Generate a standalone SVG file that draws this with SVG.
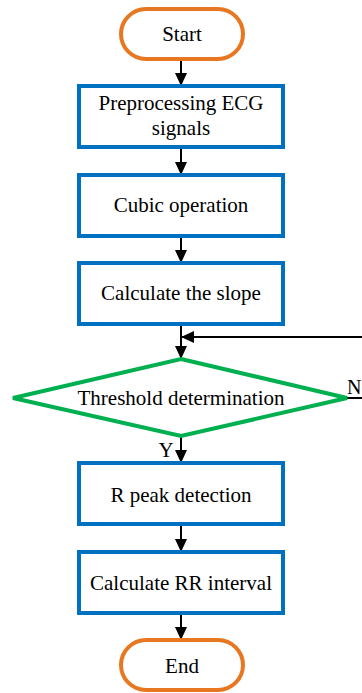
<svg xmlns="http://www.w3.org/2000/svg" width="362" height="693" viewBox="0 0 362 693">
<style>
.term{fill:#fff;stroke:#E87722;stroke-width:4}
.proc{fill:#fff;stroke:#0070C0;stroke-width:4}
.dec{fill:#fff;stroke:#00B050;stroke-width:4}
text{font-family:"Liberation Serif","Times New Roman",serif;font-size:21px;fill:#000;text-anchor:middle}
.ln{stroke:#000;stroke-width:2;fill:none}
</style>
<defs>
<marker id="ah" markerWidth="13" markerHeight="12" refX="12" refY="6" orient="auto" markerUnits="userSpaceOnUse">
<path d="M0,0 L13,6 L0,12 Z" fill="#000"/>
</marker>
</defs>
<g id="connectors">
<line class="ln" x1="181" y1="59" x2="181" y2="85" marker-end="url(#ah)"/>
<line class="ln" x1="181" y1="148" x2="181" y2="174" marker-end="url(#ah)"/>
<line class="ln" x1="181" y1="237" x2="181" y2="262" marker-end="url(#ah)"/>
<line class="ln" x1="181" y1="325" x2="181" y2="358" marker-end="url(#ah)"/>
<line class="ln" x1="362" y1="337" x2="182" y2="337" marker-end="url(#ah)"/>
<line class="ln" x1="346" y1="398" x2="362" y2="398"/>
<line class="ln" x1="181" y1="437" x2="181" y2="462" marker-end="url(#ah)"/>
<line class="ln" x1="181" y1="525" x2="181" y2="551" marker-end="url(#ah)"/>
<line class="ln" x1="181" y1="614" x2="181" y2="639" marker-end="url(#ah)"/>
<text x="347" y="394" style="text-anchor:start;font-size:20px">N</text>
<text x="166" y="457">Y</text>
</g>
<g id="start">
<rect class="term" x="121" y="9" width="122" height="50" rx="25"/>
<text x="182" y="41">Start</text>
</g>
<g id="preprocess">
<rect class="proc" x="79" y="86" width="204" height="61"/>
<text x="181" y="110">Preprocessing ECG</text>
<text x="181" y="135">signals</text>
</g>
<g id="cubic">
<rect class="proc" x="79" y="175" width="204" height="61"/>
<text x="181" y="212">Cubic operation</text>
</g>
<g id="slope">
<rect class="proc" x="79" y="263" width="204" height="61"/>
<text x="181" y="300">Calculate the slope</text>
</g>
<g id="threshold">
<polygon class="dec" points="181,359 347,398 181,436 13,398"/>
<text x="181" y="405">Threshold determination</text>
</g>
<g id="rpeak">
<rect class="proc" x="79" y="463" width="204" height="61"/>
<text x="181" y="502">R peak detection</text>
</g>
<g id="rr">
<rect class="proc" x="79" y="552" width="204" height="61"/>
<text x="181" y="590">Calculate RR interval</text>
</g>
<g id="end">
<rect class="term" x="121" y="640" width="122" height="50" rx="25"/>
<text x="182" y="673">End</text>
</g>
</svg>
